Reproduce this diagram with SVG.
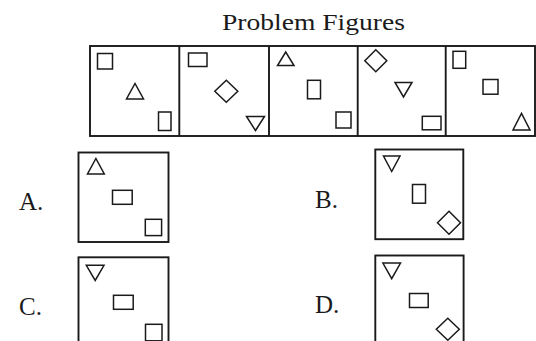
<svg xmlns="http://www.w3.org/2000/svg" width="536" height="341" viewBox="0 0 536 341">
<style>
.box{fill:none;stroke:#1a1a1a;stroke-width:1.9}
.sh{fill:none;stroke:#1a1a1a;stroke-width:1.5;stroke-linejoin:miter}
.lbl{font-size:25px;fill:#1a1a1a}
.ttl{font-size:23px;fill:#1a1a1a}
</style>
<rect width="536" height="341" fill="#ffffff"/>
<text class="ttl" font-family="Liberation Serif, serif" x="222" y="29.5" textLength="183" lengthAdjust="spacingAndGlyphs">Problem Figures</text>
<g id="problem-figures">
  <rect class="box" x="90" y="46" width="445" height="90"/>
  <line class="box" x1="179.3" y1="46" x2="179.3" y2="136"/>
  <line class="box" x1="269" y1="46" x2="269" y2="136"/>
  <line class="box" x1="357.7" y1="46" x2="357.7" y2="136"/>
  <line class="box" x1="445.7" y1="46" x2="445.7" y2="136"/>
</g>
<g id="fig1">
  <rect class="sh" x="97.5" y="53.5" width="15" height="15.5"/>
  <polygon class="sh" points="126.5,99 143.5,99 135,83.5"/>
  <rect class="sh" x="158.5" y="112" width="12.5" height="18.5"/>
</g>
<g id="fig2">
  <rect class="sh" x="188.5" y="53" width="18.5" height="13.5"/>
  <polygon class="sh" points="226.3,80.2 237.8,91.2 226.3,102.2 214.8,91.2"/>
  <polygon class="sh" points="246.5,116.5 264.5,116.5 255.5,130.5"/>
</g>
<g id="fig3">
  <polygon class="sh" points="277.5,65.5 294,65.5 285.7,52"/>
  <rect class="sh" x="307.5" y="80.3" width="13" height="18.5"/>
  <rect class="sh" x="336" y="112" width="15" height="16"/>
</g>
<g id="fig4">
  <polygon class="sh" points="375.8,49.8 386.8,60.8 375.8,71.8 364.8,60.8"/>
  <polygon class="sh" points="395,82.5 412,82.5 403.5,97"/>
  <rect class="sh" x="422.3" y="116.3" width="18.7" height="13.5"/>
</g>
<g id="fig5">
  <rect class="sh" x="453" y="51.3" width="12.7" height="17"/>
  <rect class="sh" x="483" y="79.5" width="15" height="14.7"/>
  <polygon class="sh" points="513,130 530,130 521.5,113.5"/>
</g>
<g id="optA">
  <text class="lbl" font-family="Liberation Serif, serif" x="19" y="209.5">A.</text>
  <rect class="box" x="78.5" y="152.5" width="90" height="89.5"/>
  <polygon class="sh" points="87.5,174 104.3,174 95.9,158.5"/>
  <rect class="sh" x="112.5" y="190.3" width="19.7" height="14"/>
  <rect class="sh" x="145.3" y="219.3" width="16.3" height="16.3"/>
</g>
<g id="optB">
  <text class="lbl" font-family="Liberation Serif, serif" x="315" y="207.7">B.</text>
  <rect class="box" x="375.3" y="149.5" width="88" height="89.7"/>
  <polygon class="sh" points="383.5,156 400,156 391.7,171.5"/>
  <rect class="sh" x="412.5" y="184.5" width="13" height="18.7"/>
  <polygon class="sh" points="449,211.3 460.5,222.8 449,234.3 437.5,222.8"/>
</g>
<g id="optC">
  <text class="lbl" font-family="Liberation Serif, serif" x="19" y="315">C.</text>
  <rect class="box" x="78.5" y="257.3" width="90" height="100"/>
  <polygon class="sh" points="86.3,265.3 104,265.3 95.2,280.5"/>
  <rect class="sh" x="113.5" y="295.3" width="19.7" height="14"/>
  <rect class="sh" x="145.5" y="324.3" width="16.5" height="16.5"/>
</g>
<g id="optD">
  <text class="lbl" font-family="Liberation Serif, serif" x="315" y="313.3">D.</text>
  <rect class="box" x="375.3" y="255.5" width="88.3" height="100"/>
  <polygon class="sh" points="382.9,263 400.5,263 391.7,278.7"/>
  <rect class="sh" x="409.5" y="293.5" width="18.7" height="14"/>
  <polygon class="sh" points="447.8,318.2 459.3,329.2 447.8,340.2 436.3,329.2"/>
</g>
<g id="connectors"/>
</svg>
